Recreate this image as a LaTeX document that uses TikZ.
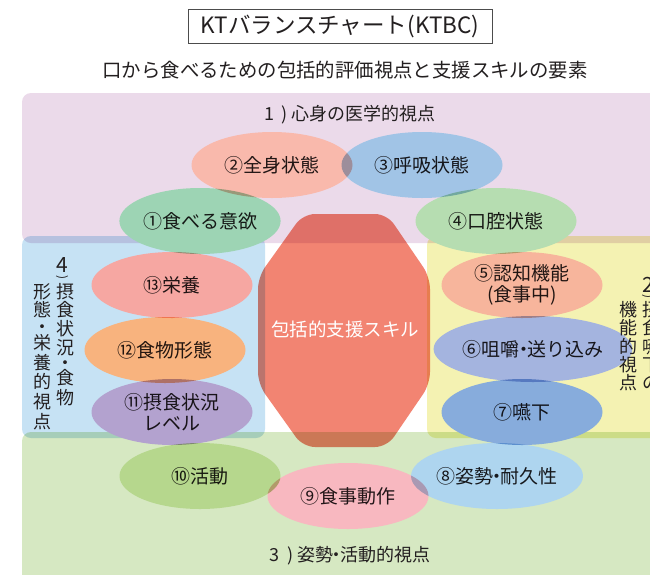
\documentclass[tikz,border=0pt]{standalone}
\usepackage{fontspec}
\setmainfont{Noto Sans CJK JP}
\usetikzlibrary{shapes.geometric}
\definecolor{txt}{HTML}{231F20}
\definecolor{pinkR}{HTML}{EBDAEA}
\definecolor{blueR}{HTML}{C6E2F4}
\definecolor{yelR}{HTML}{F4F2B2}
\definecolor{grnR}{HTML}{D6E8C2}
\definecolor{octC}{HTML}{F28472}
\definecolor{cA}{HTML}{9DD4B4}
\definecolor{cB}{HTML}{F9B9AC}
\definecolor{cC}{HTML}{A1C4E6}
\definecolor{cD}{HTML}{B6DDB1}
\definecolor{cE}{HTML}{F7B59C}
\definecolor{cF}{HTML}{A4B4DF}
\definecolor{cG}{HTML}{87ACDC}
\definecolor{cH}{HTML}{AED5EF}
\definecolor{cI}{HTML}{F8B8C0}
\definecolor{cJ}{HTML}{B6D78D}
\definecolor{cK}{HTML}{B3A2CF}
\definecolor{cL}{HTML}{F8B37E}
\definecolor{cM}{HTML}{F6A7A2}
\newcommand{\fsz}[1]{\fontsize{#1}{#1}\selectfont}
\newcommand{\fszb}[2]{\fontsize{#1}{#2}\selectfont}
\newcommand{\nd}{\kern-0.3em・\kern-0.3em}
\newcommand{\rp}{\hspace{0.42em})\hspace{0.22em}}
\begin{document}
\begin{tikzpicture}[x=1pt,y=-1pt,
  region/.style={rounded corners=9pt},
  ell/.style={ellipse, inner sep=0pt, minimum width=161pt, minimum height=66pt,
    text=txt, align=center, font=\fszb{19}{21}},
  rlab/.style={text=txt, font=\fsz{18}, inner sep=0pt},
  vch/.style={text=txt, font=\fsz{18}, inner sep=0pt, text height=14.8pt, text depth=2.2pt},
  vpar/.style={text=txt, font=\fsz{12}, inner sep=0pt, rotate=-90},
]
\useasboundingbox (0,0) rectangle (650,574);
\clip (0,0) rectangle (650,574);
\fill[white] (0,0) rectangle (650,574);

% regions and octagon, multiplied
\begin{scope}[blend mode=multiply]
  \fill[pinkR, region] (22,93) rectangle (680,243);
  \fill[blueR, region] (22,236) rectangle (265,438);
  \fill[yelR, region] (427,236) rectangle (680,438);
  \fill[grnR, region] (22,432) rectangle (680,600);
  \fill[octC, rounded corners=12pt] (303,214) -- (387,214) -- (430,277) -- (430,384)
     -- (387,447) -- (303,447) -- (258,384) -- (258,277) -- cycle;
\end{scope}

% ellipses, multiplied among themselves only
\begin{scope}[transparency group]
\begin{scope}[blend mode=multiply]
  \node[ell, fill=cB] (e2) at (272,165) {②全身状態};
  \node[ell, fill=cC] (e3) at (422,165) {③呼吸状態};
  \node[ell, fill=cA] (e1) at (200,221) {①食べる意欲};
  \node[ell, fill=cD] (e4) at (496,221) {④口腔状態};
  \node[ell, fill=cM] (e13) at (172,285) {⑬栄養};
  \node[ell, fill=cL] (e12) at (165,350) {⑫食物形態};
  \node[ell, fill=cK] (e11) at (172,412) {⑪摂食状況\\レベル};
  \node[ell, fill=cE] (e5) at (522,285) {⑤認知機能\\(食事中)};
  \node[ell, fill=cF] (e6) at (533,349) {⑥咀嚼\nd 送り込み};
  \node[ell, fill=cG] (e7) at (522,412) {⑦嚥下};
  \node[ell, fill=cJ] (e10) at (200,476) {⑩活動};
  \node[ell, fill=cH] (e8) at (497,476) {⑧姿勢\nd 耐久性};
  \node[ell, fill=cI] (e9) at (348,496) {⑨食事動作};
\end{scope}
\end{scope}

% texts
\node[text=white, font=\fsz{18.5}, inner sep=0pt] (skill) at (345,329) {包括的支援スキル};
\node[draw=black!70, line width=0.8pt, minimum width=304pt, minimum height=34pt,
  text=txt, font=\fsz{22.5}, inner sep=0pt] (title) at (340,26) {KTバランスチャート(KTBC)};
\node[rlab, font=\fsz{19.4}] (sub) at (345,70) {口から食べるための包括的評価視点と支援スキルの要素};
\node[rlab] (lab1) at (350,115) {1\rp 心身の医学的視点};
\node[rlab] (lab3) at (350,556) {3\rp 姿勢\nd 活動的視点};

\node[text=txt, font=\fsz{21}, inner sep=0pt] (v4n) at (62,265) {4};
\node[vpar] (v4p) at (62,278) {)};
\foreach \c/\yy [count=\i] in {摂/292,食/310,状/329,況/348,・/363,食/378,物/398}
  \node[vch] (v4r-\i) at (65,\yy) {\c};
\foreach \c/\yy [count=\i] in {形/292,態/310,・/327,栄/343,養/363,的/382,視/402,点/422}
  \node[vch] (v4l-\i) at (42,\yy) {\c};
\node[text=txt, font=\fsz{21}, inner sep=0pt] (v2n) at (648,285) {2};
\node[vpar] (v2p) at (648,297) {)};
\foreach \c/\yy [count=\i] in {摂/310,食/328,嚥/347,下/365,の/383}
  \node[vch] (v2r-\i) at (651,\yy) {\c};
\foreach \c/\yy [count=\i] in {機/310,能/328,的/347,視/365,点/383}
  \node[vch] (v2l-\i) at (628,\yy) {\c};
\end{tikzpicture}
\end{document}
